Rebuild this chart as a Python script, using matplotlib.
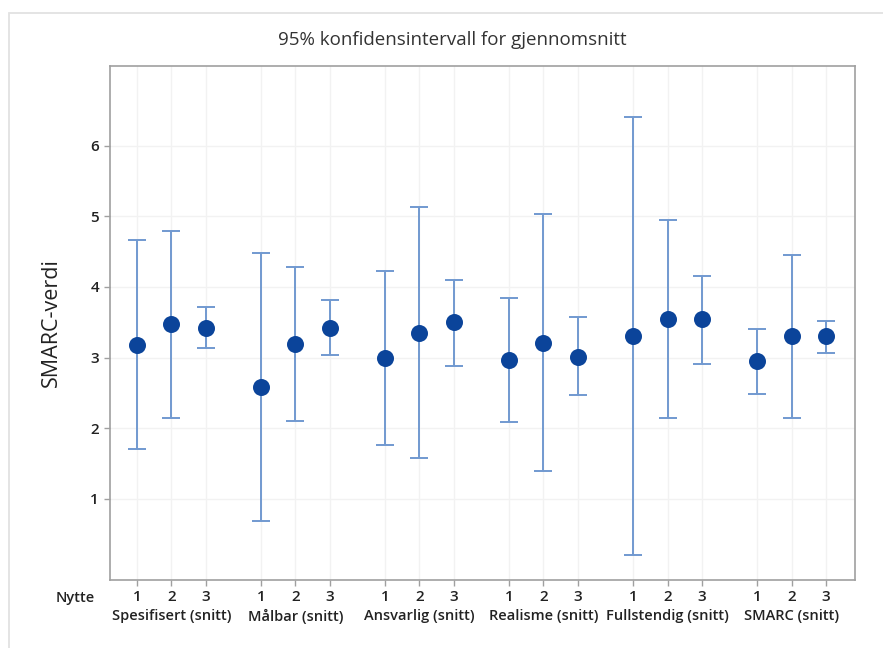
import matplotlib
matplotlib.use("Agg")
import matplotlib.pyplot as plt
from matplotlib.patches import Rectangle
import numpy as np

groups = ["Spesifisert (snitt)", "Målbar (snitt)", "Ansvarlig (snitt)",
          "Realisme (snitt)", "Fullstendig (snitt)", "SMARC (snitt)"]
levels = ["1", "2", "3"]

means = [
    [3.18, 3.47, 3.42],
    [2.58, 3.19, 3.42],
    [3.00, 3.35, 3.50],
    [2.97, 3.21, 3.01],
    [3.30, 3.55, 3.54],
    [2.95, 3.30, 3.30],
]
lower = [
    [1.71, 2.15, 3.13],
    [0.68, 2.10, 3.04],
    [1.76, 1.58, 2.88],
    [2.09, 1.395, 2.47],
    [0.20, 2.15, 2.91],
    [2.49, 2.14, 3.06],
]
upper = [
    [4.66, 4.80, 3.72],
    [4.48, 4.29, 3.81],
    [4.23, 5.13, 4.10],
    [3.84, 5.03, 3.57],
    [6.41, 4.95, 4.15],
    [3.41, 4.45, 3.52],
]

plt.rcParams['font.family'] = ['Open Sans', 'DejaVu Sans']

fig = plt.figure(figsize=8.83 * np.array([1, 648 / 883]), dpi=100)
W, H = 883, 648
ax = fig.add_axes([110 / W, 1 - 580 / H, (855 - 110) / W, (580 - 66) / H])

step = 3.6
xs, m, lo, hi = [], [], [], []
for g in range(len(groups)):
    for i in range(3):
        xs.append(g * step + i)
        m.append(means[g][i])
        lo.append(lower[g][i])
        hi.append(upper[g][i])
xs = np.array(xs); m = np.array(m); lo = np.array(lo); hi = np.array(hi)

ax.errorbar(xs, m, yerr=[m - lo, hi - m], fmt='none', ecolor='#7199d0',
            elinewidth=1.4, capsize=6.5, capthick=1.4, zorder=2)
ax.scatter(xs, m, s=150, color='#0b449a', zorder=3, linewidths=0)

ax.set_xlim(-0.78, xs[-1] + 0.84)
ax.set_ylim(-0.15, 7.13)
ax.set_yticks([1, 2, 3, 4, 5, 6])
ax.set_xticks(xs)
ax.set_xticklabels(levels * len(groups))
ax.grid(True, color='#f2f2f2', linewidth=1.0)
ax.set_axisbelow(True)
for s in ax.spines.values():
    s.set_color('#a0a0a0')
    s.set_linewidth(1.2)
ax.tick_params(axis='both', colors='#a0a0a0', length=4, width=1,
               labelcolor='#222222', labelsize=11)
for lab in ax.get_yticklabels() + ax.get_xticklabels():
    lab.set_fontweight('semibold')
ax.tick_params(axis='x', pad=3)
ax.tick_params(axis='y', pad=4)

ax.set_ylabel("SMARC-verdi", fontsize=15.5, color='#222222', labelpad=20)

ylab = -(619 - 580) / (580 - 66) + 0.005
for g, name in enumerate(groups):
    ax.text(g * step + 1, ylab, name, transform=ax.get_xaxis_transform(),
            ha='center', va='center', fontsize=10.5, fontweight='semibold',
            color='#222222')

fig.text(95 / W, 1 - 598 / H, "Nytte", ha='right', va='center', fontsize=10.5,
         fontweight='semibold', color='#222222')

fig.text(452 / W, 1 - 40 / H, "95% konfidensintervall for gjennomsnitt",
         ha='center', va='center', fontsize=13.5, color='#333333')

fig.patches.append(Rectangle((9 / W, -0.1), 1.2, 1 - 13 / H + 0.1,
                             transform=fig.transFigure, fill=False,
                             edgecolor='#e2e2e2', linewidth=1.3, zorder=0))

fig.savefig("out.png", dpi=100)
